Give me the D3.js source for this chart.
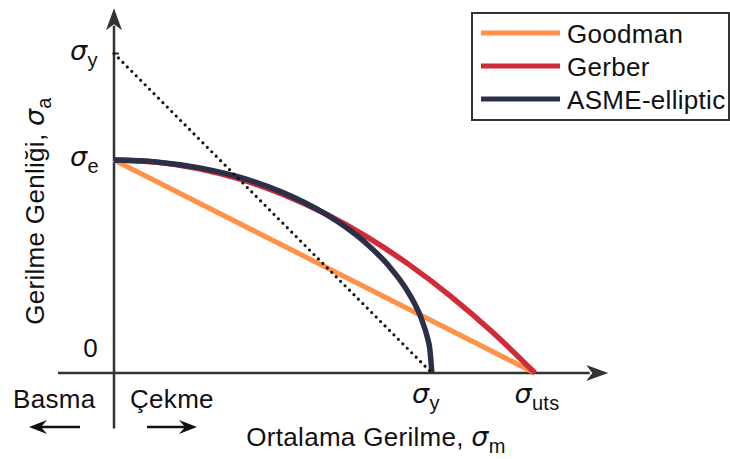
<!DOCTYPE html>
<html>
<head>
<meta charset="utf-8">
<script src="https://cdn.jsdelivr.net/npm/d3@7"></script>
<style>
	body { margin: 0; background: #fff; }
	svg text { font-family: "Liberation Sans", Arial, sans-serif; fill: #111; letter-spacing: 0.3px; }
	.sig { font-style: italic; font-family: "DejaVu Sans", sans-serif; }
</style>
</head>
<body>
<script>
// values in units of sigma_uts (x) and sigma_e (y)
var sigmaUts = 1, sigmaE = 1, sigmaYm = 0.755, sigmaYa = 1.5;

var goodman = [[0, 1], [1, 0]];
var gerberM = [0, 0.1, 0.2, 0.3, 0.4, 0.5, 0.6, 0.7, 0.8, 0.9, 1];
var gerberA = [1, 0.99, 0.96, 0.91, 0.84, 0.75, 0.64, 0.51, 0.36, 0.19, 0];
var asmeM = [0, 0.1, 0.2, 0.3, 0.4, 0.5, 0.55, 0.6, 0.65, 0.7, 0.73, 0.745, 0.75, 0.755];
var asmeA = [1, 0.991, 0.964, 0.918, 0.848, 0.749, 0.685, 0.607, 0.509, 0.375, 0.255, 0.162, 0.115, 0];
var yieldLine = [[0, sigmaYa], [sigmaYm, 0]];

var legendNames = ["Goodman", "Gerber", "ASME-elliptic"];
var colors = ["#ff9248", "#d02b38", "#2b3048"];

var width = 730, height = 459;
var svg = d3.select("body").append("svg").attr("width", width).attr("height", height);

var x = d3.scaleLinear().domain([0, 1]).range([114, 535]);
var y = d3.scaleLinear().domain([0, 1]).range([373, 160]);

var axisCol = "#333";
var fs = "26px";

// axes
svg.append("line").attr("x1", x(-0.133)).attr("x2", x(1.13)).attr("y1", y(0)).attr("y2", y(0))
	.attr("stroke", axisCol).attr("stroke-width", 2.5);
svg.append("line").attr("x1", x(0)).attr("x2", x(0)).attr("y1", y(-0.26)).attr("y2", y(1.63))
	.attr("stroke", axisCol).attr("stroke-width", 2.5);
// arrow heads
var xe = x(1.174), ye = y(1.712);
svg.append("path").attr("d", "M" + xe + "," + y(0) + " L" + (xe - 22) + "," + (y(0) - 8) + " L" + (xe - 16) + "," + y(0) + " L" + (xe - 22) + "," + (y(0) + 8) + "Z")
	.attr("fill", axisCol);
svg.append("path").attr("d", "M" + x(0) + "," + ye + " L" + (x(0) - 8) + "," + (ye + 22) + " L" + x(0) + "," + (ye + 16) + " L" + (x(0) + 8) + "," + (ye + 22) + "Z")
	.attr("fill", axisCol);
// yield tick on y axis
svg.append("line").attr("x1", x(0)).attr("x2", x(0) + 5).attr("y1", y(sigmaYa)).attr("y2", y(sigmaYa))
	.attr("stroke", axisCol).attr("stroke-width", 2);

var line = d3.line().x(function (d) { return x(d[0]); }).y(function (d) { return y(d[1]); });
var smooth = d3.line().curve(d3.curveMonotoneX).x(function (d) { return x(d[0]); }).y(function (d) { return y(d[1]); });

svg.append("path").attr("d", line(goodman)).attr("fill", "none").attr("stroke", colors[0]).attr("stroke-width", 5);
svg.append("path").attr("d", smooth(d3.zip(gerberM, gerberA))).attr("fill", "none").attr("stroke", colors[1]).attr("stroke-width", 5.5);
svg.append("path").attr("d", smooth(d3.zip(asmeM, asmeA))).attr("fill", "none").attr("stroke", colors[2]).attr("stroke-width", 5.5);
svg.append("path").attr("d", line(yieldLine)).attr("fill", "none").attr("stroke", "#111")
	.attr("stroke-width", 3.2).attr("stroke-linecap", "round").attr("stroke-dasharray", "0 6.3");

// sigma labels
function sigLabel(px, py, sub, anchor) {
	var t = svg.append("text").attr("x", px).attr("y", py).attr("text-anchor", anchor || "start");
	t.append("tspan").attr("class", "sig").style("font-size", "27px").text("σ");
	t.append("tspan").attr("dy", 7).style("font-size", "20px").text(sub);
	return t;
}
sigLabel(70, y(sigmaYa) + 6, "y");
sigLabel(70, y(sigmaE) + 6, "e");
sigLabel(x(sigmaYm) - 6, 403, "y", "middle");
sigLabel(x(sigmaUts) + 2, 403, "uts", "middle");
svg.append("text").attr("x", 98).attr("y", 357).attr("text-anchor", "end").style("font-size", fs).text("0");

// axis titles
var yt = svg.append("text").attr("transform", "translate(44,211) rotate(-90)").attr("text-anchor", "middle").style("font-size", fs);
yt.append("tspan").text("Gerilme Genliği, ");
yt.append("tspan").attr("class", "sig").style("font-size", "27px").text("σ");
yt.append("tspan").attr("dy", 7).style("font-size", "20px").text("a");

var xt = svg.append("text").attr("x", 376).attr("y", 446).attr("text-anchor", "middle").style("font-size", fs);
xt.append("tspan").text("Ortalama Gerilme, ");
xt.append("tspan").attr("class", "sig").style("font-size", "27px").text("σ");
xt.append("tspan").attr("dy", 7).style("font-size", "20px").text("m");

// Basma / Çekme
svg.append("text").attr("x", 13).attr("y", 408).style("font-size", fs).text("Basma");
svg.append("text").attr("x", 130).attr("y", 408).style("font-size", fs).text("Çekme");
function arrow(x1, x2, yy) {
	var dir = x2 > x1 ? 1 : -1;
	svg.append("line").attr("x1", x1).attr("x2", x2 - dir * 8).attr("y1", yy).attr("y2", yy).attr("stroke", "#111").attr("stroke-width", 2.5);
	svg.append("path").attr("d", "M" + x2 + "," + yy + " L" + (x2 - dir * 18) + "," + (yy - 7) + " L" + (x2 - dir * 12) + "," + yy + " L" + (x2 - dir * 18) + "," + (yy + 7) + "Z").attr("fill", "#111");
}
arrow(80, 29, 427);
arrow(147, 197, 427);

// legend
svg.append("rect").attr("x", 472).attr("y", 13).attr("width", 257).attr("height", 107)
	.attr("fill", "#fff").attr("stroke", axisCol).attr("stroke-width", 2);
legendNames.forEach(function (n, i) {
	var ly = 33 + i * 33;
	svg.append("line").attr("x1", 481).attr("x2", 560).attr("y1", ly).attr("y2", ly).attr("stroke", colors[i]).attr("stroke-width", 5);
	svg.append("text").attr("x", 567).attr("y", ly + 10).style("font-size", fs).text(n);
});
</script>
</body>
</html>
